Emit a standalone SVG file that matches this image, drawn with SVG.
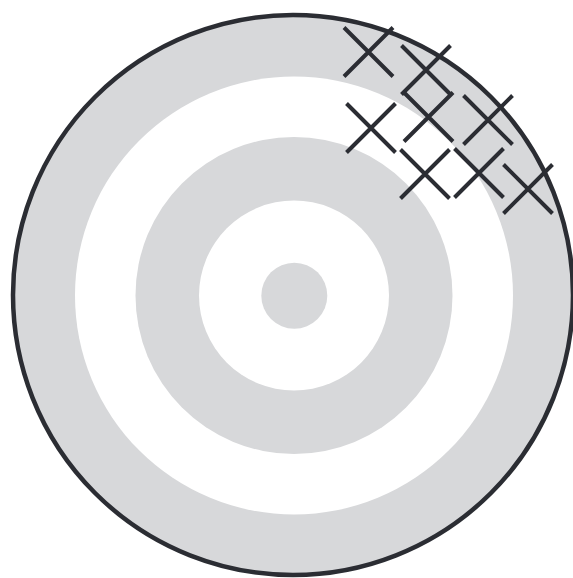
<svg xmlns="http://www.w3.org/2000/svg" width="573" height="578" viewBox="0 0 573 578">
  <defs>
    <style>
      .ring { fill: #d7d8da; }
      .gap { fill: #ffffff; }
      .x { stroke: #2b2d33; stroke-width: 4; fill: none; stroke-linecap: butt; }
    </style>
    <path id="xmark" class="x" d="M-24.5,-24.5 L24.5,24.5 M24.5,-24.5 L-24.5,24.5"/>
  </defs>
  <rect width="573" height="578" fill="#ffffff"/>
  <g id="target">
    <circle class="ring" cx="293" cy="295" r="280"/>
    <circle class="gap" cx="294" cy="295.5" r="219"/>
    <circle class="ring" cx="294" cy="295.5" r="158.5"/>
    <circle class="gap" cx="294" cy="295.5" r="95"/>
    <circle class="ring" cx="294.3" cy="295.7" r="33"/>
    <circle cx="293" cy="295" r="280" fill="none" stroke="#2b2d33" stroke-width="4.5"/>
  </g>
  <g id="marks">
    <use href="#xmark" x="368.5" y="52"/>
    <use href="#xmark" x="426" y="70"/>
    <use href="#xmark" x="428.5" y="117"/>
    <use href="#xmark" x="488" y="120"/>
    <use href="#xmark" x="371" y="128"/>
    <use href="#xmark" x="425" y="174"/>
    <use href="#xmark" x="479" y="173"/>
    <use href="#xmark" x="528" y="189"/>
  </g>
</svg>
